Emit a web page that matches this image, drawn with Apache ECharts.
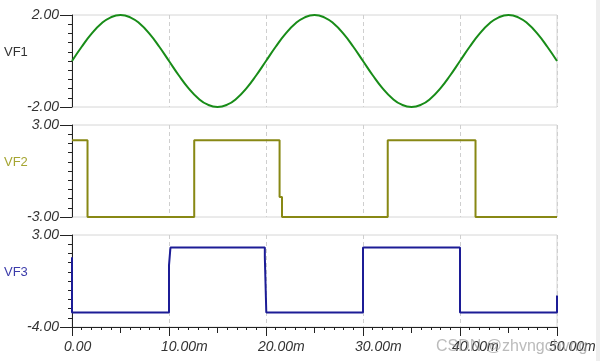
<!DOCTYPE html>
<html>
<head>
<meta charset="utf-8">
<script src="https://cdn.jsdelivr.net/npm/echarts@6/dist/echarts.min.js"></script>
<style>
html,body{margin:0;padding:0;background:#fff;}
#c{width:600px;height:361px;}
</style>
</head>
<body>
<div id="c"></div>
<script>
// ---- data (time in ms) ----
var vf1 = [
  [0,0.00],[1,0.62],[2,1.18],[3,1.62],[4,1.90],[5,2.00],[6,1.90],[7,1.62],[8,1.18],[9,0.62],
  [10,0.00],[11,-0.62],[12,-1.18],[13,-1.62],[14,-1.90],[15,-2.00],[16,-1.90],[17,-1.62],[18,-1.18],[19,-0.62],
  [20,0.00],[21,0.62],[22,1.18],[23,1.62],[24,1.90],[25,2.00],[26,1.90],[27,1.62],[28,1.18],[29,0.62],
  [30,0.00],[31,-0.62],[32,-1.18],[33,-1.62],[34,-1.90],[35,-2.00],[36,-1.90],[37,-1.62],[38,-1.18],[39,-0.62],
  [40,0.00],[41,0.62],[42,1.18],[43,1.62],[44,1.90],[45,2.00],[46,1.90],[47,1.62],[48,1.18],[49,0.62],
  [50,0.00]
];
var vf2 = [
  [0,2.0],[1.6,2.0],[1.6,-3.0],[12.6,-3.0],[12.6,2.0],[21.4,2.0],[21.4,-1.7],[21.65,-1.7],
  [21.65,-3.0],[32.55,-3.0],[32.55,2.0],[41.6,2.0],[41.6,-3.0],[50,-3.0]
];
var vf3 = [
  [0,1.3],[0,-2.9],[10.0,-2.9],[10.0,0.7],[10.15,0.7],[10.15,2.05],[19.88,2.05],[19.88,1.3],
  [20.03,1.3],[20.03,-2.9],[30.0,-2.9],[30.0,2.05],[40.0,2.05],[40.0,-2.9],[50,-2.9],[50,-1.6]
];
var seriesNames = ['VF1','VF2','VF3'];
var yMin = [-2, -3, -4];
var yMax = [2, 3, 3];
var yTicks = [
  [-2,-1.6,-1.2,-0.8,-0.4,0,0.4,0.8,1.2,1.6,2],
  [-3,-2.4,-1.8,-1.2,-0.6,0,0.6,1.2,1.8,2.4,3],
  [-4,-3.3,-2.6,-1.9,-1.2,-0.5,0.2,0.9,1.6,2.3,3]
];
var xMin = 0, xMax = 50, xInterval = 10;
var xMidTicks = [5,15,25,35,45];

var lineColors = ['rgb(24,140,24)','rgb(136,136,20)','rgb(28,28,150)'];
var nameColors = ['#333333','rgb(165,165,50)','rgb(60,60,170)'];
var gridTops = [15, 125, 235];
var FONT = 'Liberation Sans, Arial, sans-serif';

var grids = [], xAxes = [], yAxes = [], series = [], graphics = [];
var datas = [vf1, vf2, vf3];
for (var i = 0; i < 3; i++) {
  grids.push({left:72, width:485, top:gridTops[i], height:92, show:true,
    borderColor:'#d6d6d6', borderWidth:1, backgroundColor:'#fff'});
  var last = (i === 2);
  xAxes.push({
    type:'value', gridIndex:i, position:'bottom', min:xMin, max:xMax, interval:xInterval,
    axisLine:{show:last, onZero:false, lineStyle:{color:'#222', width:1}},
    axisTick:{show:last, length:9, lineStyle:{color:'#222'}},
    minorTick:{show:last, splitNumber:10, length:3, lineStyle:{color:'#222'}},
    axisLabel:{show:last, margin:13, color:'#333', fontStyle:'italic', fontSize:14, fontFamily:FONT,
      align:'left', padding:[0,0,0,-8],
      formatter:function(v){ return v === 0 ? '0.00' : v.toFixed(2) + 'm'; }},
    splitLine:{show:true, lineStyle:{color:'#cfcfcf', type:[4,3], width:1}}
  });
  yAxes.push({
    type:'value', gridIndex:i, position:'left', min:yMin[i], max:yMax[i],
    axisLine:{show:true, onZero:false, lineStyle:{color:'#222', width:1}},
    axisTick:{show:true, length:12, customValues:[yMin[i], yMax[i]], lineStyle:{color:'#222'}},
    axisLabel:{show:true, margin:13, customValues:[yMin[i], yMax[i]], color:'#333', fontStyle:'italic',
      fontSize:14, fontFamily:FONT, formatter:function(v){ return v.toFixed(2); }},
    splitLine:{show:false}
  });
  yAxes.push({
    type:'value', gridIndex:i, position:'left', min:yMin[i], max:yMax[i],
    axisLine:{show:false, onZero:false},
    axisTick:{show:true, length:4, customValues:yTicks[i], lineStyle:{color:'#222'}},
    axisLabel:{show:false},
    splitLine:{show:false}
  });
  series.push({
    type:'line', name:seriesNames[i], xAxisIndex:i, yAxisIndex:i*2, data:datas[i],
    smooth: i === 0, showSymbol:false, symbol:'none', clip:false, animation:false,
    lineStyle:{color:lineColors[i], width:2}
  });
  graphics.push({type:'text', left:4, top:gridTops[i] + 31,
    style:{text:seriesNames[i], fill:nameColors[i], font:'13px ' + FONT}});
}
// mid (5 ms) ticks on bottom axis
xAxes.push({
  type:'value', gridIndex:2, position:'bottom', min:xMin, max:xMax,
  axisLine:{show:false, onZero:false}, axisLabel:{show:false}, splitLine:{show:false},
  axisTick:{show:true, length:6, customValues:xMidTicks, lineStyle:{color:'#222'}}
});
graphics.push({type:'rect', left:596, top:0, shape:{width:4, height:361}, style:{fill:'#eeeeee'}, z:-1});
graphics.push({type:'text', left:436, top:339, z:100,
  style:{text:'CSDN @zhvngchvng', fill:'rgba(150,150,150,0.65)', font:'16px ' + FONT}});

var chart = echarts.init(document.getElementById('c'), null, {renderer:'canvas'});
chart.setOption({
  animation:false,
  backgroundColor:'#fff',
  grid:grids, xAxis:xAxes, yAxis:yAxes, series:series, graphic:graphics
});
</script>
</body>
</html>
